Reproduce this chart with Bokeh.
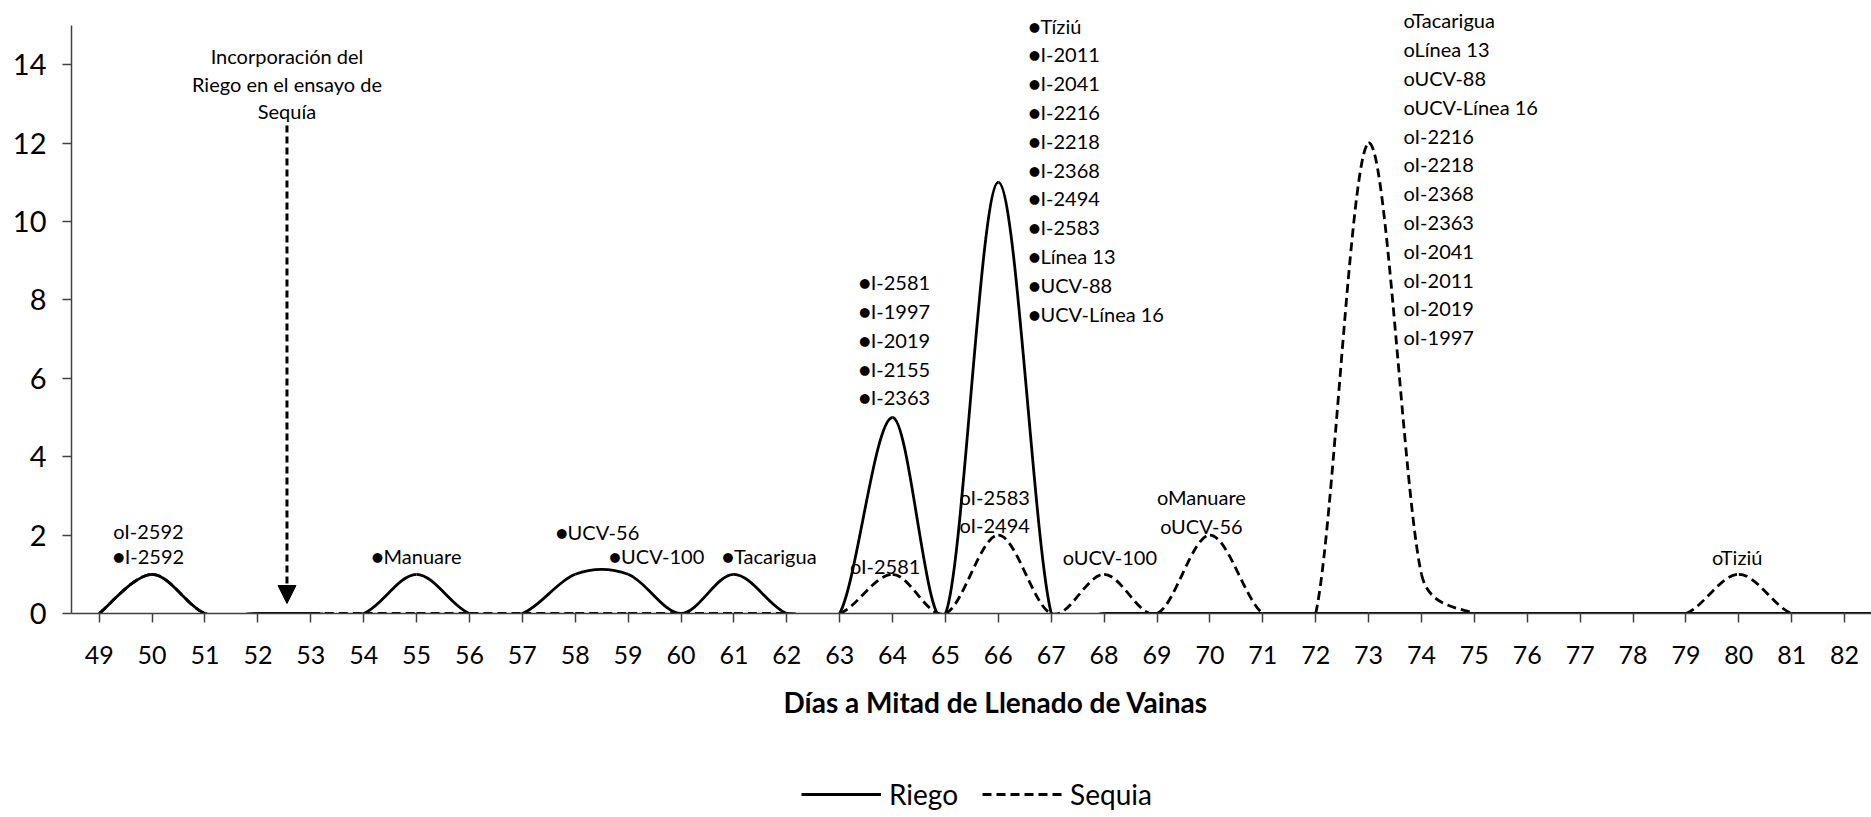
import numpy as np
from bokeh.plotting import figure
from bokeh.layouts import column
from bokeh.models import (Range1d, FixedTicker, LabelSet, Arrow, NormalHead,
                          Legend, LegendItem, ColumnDataSource, Title)
from bokeh.core.properties import value
from bokeh.embed import file_html
from bokeh.resources import INLINE

# ---------------- data ----------------
days = [49, 50, 51, 52, 53, 54, 55, 56, 57, 58, 59, 60, 61, 62, 63, 64, 65, 66,
        67, 68, 69, 70, 71, 72, 73, 74, 75, 76, 77, 78, 79, 80, 81, 82, 83, 84]
riego = [0, 1, 0, 0, 0, 0, 1, 0, 0, 1, 1, 0, 1, 0, 0, 5, 0, 11,
         0, 0, 0, 0, 0, 0, 0, 0, 0, 0, 0, 0, 0, 0, 0, 0, 0, 0]
sequia = [0, 1, 0, 0, 0, 0, 0, 0, 0, 0, 0, 0, 0, 0, 0, 1, 0, 2,
          0, 1, 0, 2, 0, 0, 12, 1, 0, 0, 0, 0, 0, 1, 0, 0, 0, 0]
y_ticks = [0, 2, 4, 6, 8, 10, 12, 14]

riego_label_days = [50, 55, 58, 59, 61, 64, 66]
riego_label_names = [
    ["I-2592"], ["Manuare"], ["UCV-56"], ["UCV-100"], ["Tacarigua"],
    ["I-2581", "I-1997", "I-2019", "I-2155", "I-2363"],
    ["Tíziú", "I-2011", "I-2041", "I-2216", "I-2218", "I-2368", "I-2494",
     "I-2583", "Línea 13", "UCV-88", "UCV-Línea 16"],
]
sequia_label_days = [50, 64, 66, 68, 70, 73, 80]
sequia_label_names = [
    ["I-2592"], ["I-2581"], ["I-2583", "I-2494"], ["UCV-100"], ["Manuare", "UCV-56"],
    ["Tacarigua", "Línea 13", "UCV-88", "UCV-Línea 16", "I-2216", "I-2218",
     "I-2368", "I-2363", "I-2041", "I-2011", "I-2019", "I-1997"],
    ["Tiziú"],
]
series_names = ["Riego", "Sequia"]
annotation_lines = ["Incorporación del", "Riego en el ensayo de", "Sequía"]
x_title = "Días a Mitad de Llenado de Vainas"

# ---------------- layout ----------------
W = 1871
H1, H2 = 745, 72                    # main plot / legend strip
FL, FT, FB = 71, 25, 613            # frame left / value-15 line / value-0 line (px)
XR = (48.476, 82.509)
Y_TOP = 15
sx = (W - FL) / (XR[1] - XR[0])
sy = (FB - FT) / Y_TOP
YR = (0, Y_TOP + FT / sy)           # frame reaches the canvas top, axis line stops at 15
line_step = 28.8 / sy               # label line spacing in data units

# label anchors (x in data units, y of first line, alignment)
riego_label_pos = [(49.93, 1.46, "center"), (55.0, 1.46, "center"), (58.42, 2.09, "center"),
                   (59.54, 1.475, "center"), (61.67, 1.475, "center"),
                   (63.36, 8.45, "left"), (66.57, 15.0, "left")]
sequia_label_pos = [(49.93, 2.11, "center"), (63.86, 1.22, "center"), (65.93, 2.98, "center"),
                    (68.11, 1.43, "center"), (69.84, 2.96, "center"),
                    (73.66, 15.13, "left"), (79.97, 1.43, "center")]

FONT = "Lato"
AX = "#404040"


def excel_smooth(xs, ys):
    """Bezier control points like a spreadsheet 'smoothed line', computed in px space."""
    P = np.column_stack([np.asarray(xs, float) * sx, np.asarray(ys, float) * sy])
    n = len(P)
    cols = {k: [] for k in ("x0", "y0", "x1", "y1", "cx0", "cy0", "cx1", "cy1")}
    for i in range(n - 1):
        p0, p1, p2, p3 = P[max(i - 1, 0)], P[i], P[i + 1], P[min(i + 2, n - 1)]
        d02 = np.hypot(*(p2 - p0)); d12 = np.hypot(*(p2 - p1)); d13 = np.hypot(*(p3 - p1))
        f0 = min(1 / 6, d12 / (2 * d02)) if d02 > 0 else 0.0
        f1 = min(1 / 6, d12 / (2 * d13)) if d13 > 0 else 0.0
        c0 = p1 + f0 * (p2 - p0)
        c1 = p2 - f1 * (p3 - p1)
        cols["x0"].append(p1[0] / sx); cols["y0"].append(p1[1] / sy)
        cols["x1"].append(p2[0] / sx); cols["y1"].append(p2[1] / sy)
        cols["cx0"].append(c0[0] / sx); cols["cy0"].append(c0[1] / sy)
        cols["cx1"].append(c1[0] / sx); cols["cy1"].append(c1[1] / sy)
    return ColumnDataSource(cols)


p = figure(width=W, height=H1, x_range=Range1d(*XR), y_range=Range1d(*YR),
           output_backend="svg", toolbar_location=None,
           min_border_left=FL, min_border_right=0, min_border_top=0,
           min_border_bottom=H1 - FB)
p.outline_line_color = None
p.grid.visible = False
p.background_fill_color = "white"
p.border_fill_color = "white"

# axes
p.xaxis.ticker = FixedTicker(ticks=days)
p.yaxis.ticker = FixedTicker(ticks=y_ticks)
p.yaxis.bounds = (0, Y_TOP)
for ax in (p.xaxis, p.yaxis):
    ax.axis_line_color = AX
    ax.axis_line_width = 1.5
    ax.major_tick_line_color = AX
    ax.major_tick_line_width = 1.5
    ax.major_tick_out = 9
    ax.major_tick_in = 0
    ax.minor_tick_line_color = None
    ax.major_label_text_font = FONT
    ax.major_label_text_color = "black"
p.xaxis.major_label_text_font_size = "25px"
p.yaxis.major_label_text_font_size = "29px"
p.xaxis.major_label_standoff = 23
p.yaxis.major_label_standoff = 16

# series
style = dict(line_color="black", line_width=2.8)
src_r = excel_smooth(days, riego)
src_s = excel_smooth(days, sequia)
bz = dict(x0="x0", y0="y0", x1="x1", y1="y1", cx0="cx0", cy0="cy0", cx1="cx1", cy1="cy1")
r_r = p.bezier(source=src_r, **bz, **style)
r_s = p.bezier(source=src_s, **bz, **style, line_dash="9 5")


# data labels
def label_source(names_groups, positions, prefix, align):
    xs, ys, txt = [], [], []
    for names, (x, y, a) in zip(names_groups, positions):
        if a != align:
            continue
        for k, nm in enumerate(names):
            xs.append(x)
            ys.append(y - k * line_step)
            txt.append(prefix + nm)
    return ColumnDataSource(dict(x=xs, y=ys, text=txt))


for names, pos, prefix in ((riego_label_names, riego_label_pos, "●"),
                           (sequia_label_names, sequia_label_pos, "o")):
    for align in ("center", "left"):
        ls = LabelSet(x="x", y="y", text="text", source=label_source(names, pos, prefix, align),
                      text_align=align, text_baseline="middle", text_font=value(FONT),
                      text_font_size=value("20px"), text_color="black")
        p.add_layout(ls)

# irrigation annotation + arrow
ann_x = 52.55
ann_src = ColumnDataSource(dict(x=[ann_x] * 3, y=[14.23, 13.52, 12.83], text=annotation_lines))
p.add_layout(LabelSet(x="x", y="y", text="text", source=ann_src, text_align="center",
                      text_baseline="middle", text_font=value(FONT),
                      text_font_size=value("20px"), text_color="black"))
p.add_layout(Arrow(x_start=ann_x, y_start=12.45, x_end=ann_x, y_end=0.255,
                   line_color="black", line_width=3, line_dash="7 4",
                   end=NormalHead(size=18, fill_color="black", line_color="black", line_width=1)))

# x-axis title (below panel, shifted right like the original)
p.add_layout(Title(text=x_title, align="left", offset=712, text_font=FONT,
                   text_font_style="bold", text_font_size="28px", text_color="black",
                   standoff=32), "below")

# legend strip: same series glyphs, kept out of this strip's view, only the legend shows
p2 = figure(width=W, height=H2, x_range=Range1d(0, 1), y_range=Range1d(0, 1),
            output_backend="svg", toolbar_location=None, x_axis_type=None,
            y_axis_type=None, min_border=0, min_border_left=FL)
p2.outline_line_color = None
p2.grid.visible = False
l_r = p2.bezier(source=src_r, **bz, **style)
l_s = p2.bezier(source=src_s, **bz, **style, line_dash="9 5")
legend = Legend(items=[LegendItem(label=series_names[0], renderers=[l_r]),
                       LegendItem(label=series_names[1], renderers=[l_s])],
                orientation="horizontal", location=(730, 6),
                glyph_width=80, glyph_height=28, label_height=28,
                label_text_font=FONT, label_text_font_size="28px",
                label_text_color="black",
                label_standoff=8, spacing=24, padding=0, margin=0,
                border_line_color=None, background_fill_alpha=0)
p2.add_layout(legend, "center")

layout = column(p, p2, spacing=0)
open("out.html", "w").write(file_html(layout, INLINE))
